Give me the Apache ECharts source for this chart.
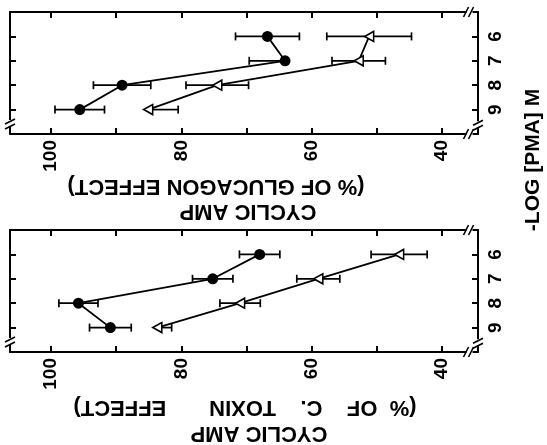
<!DOCTYPE html>
<html><head><meta charset="utf-8">
<script src="https://cdn.jsdelivr.net/npm/echarts@6/dist/echarts.min.js"></script>
<style>html,body{margin:0;padding:0;background:#fff}#c{width:547px;height:445px}</style>
</head><body><div id="c"></div>
<script>
// -log [PMA] M levels (order along each curve)
const pmaLevels = [9, 8, 7, 6];
const pmaTickLabels = [6, 7, 8, 9];
const percentTicks = [40, 50, 60, 70, 80, 90, 100];
const percentTickLabels = [40, 60, 80, 100];

// Top panel: cyclic AMP (% of glucagon effect)
const glucagonCircle = [95.6, 89.1, 64.1, 66.8];
const glucagonCircleErrUp = [3.8, 4.4, 5.5, 4.9];
const glucagonCircleErrDown = [3.8, 4.4, 0, 4.9];
const glucagonTriangle = [85.1, 74.5, 52.8, 51.2];
const glucagonTriangleErrUp = [0, 4.8, 4.1, 6.5];
const glucagonTriangleErrDown = [4.6, 4.8, 4.1, 6.5];

// Bottom panel: cyclic AMP (% of C. toxin effect)
const toxinCircle = [90.9, 95.8, 75.2, 68.0];
const toxinCircleErrUp = [3.2, 3.0, 3.1, 3.1];
const toxinCircleErrDown = [3.2, 3.0, 3.1, 3.1];
const toxinTriangle = [83.7, 71.0, 59.0, 46.6];
const toxinTriangleErrUp = [0, 3.1, 3.3, 4.3];
const toxinTriangleErrDown = [2.2, 3.1, 3.3, 4.3];

const titleTop1 = '(% OF GLUCAGON EFFECT)';
const titleBottom1 = '(%  OF    C.    TOXIN       EFFECT)';
const titleLine2 = 'CYCLIC AMP';
const pmaTitle = '-LOG [PMA] M';

const X_MIN = 34.5, X_MAX = 106.3, Y_MIN = 5, Y_MAX = 10;
const FONT = '"Liberation Sans", Arial, sans-serif';
const BLACK = '#000';

const chart = echarts.init(document.getElementById('c'), null, {renderer: 'canvas'});

const grids = [
  {left: 10, top: 12, width: 468, height: 122},
  {left: 10, top: 230, width: 468, height: 122}
];

function xAxes(gi) {
  const base = {
    type: 'value', gridIndex: gi, min: X_MIN, max: X_MAX, inverse: true,
    axisLine: {show: true, onZero: false, lineStyle: {color: BLACK, width: 2}},
    axisTick: {show: true, inside: true, length: 6, customValues: percentTicks, lineStyle: {color: BLACK, width: 2}},
    splitLine: {show: false}
  };
  return [
    Object.assign({}, base, {position: 'bottom',
      axisLabel: {show: true, customValues: percentTickLabels, rotate: 90, margin: 6, color: BLACK,
        fontSize: 19, fontWeight: 'bold', fontFamily: FONT}}),
    Object.assign({}, base, {position: 'top', axisLabel: {show: false}})
  ];
}
function yAxes(gi) {
  const base = {
    type: 'value', gridIndex: gi, min: Y_MIN, max: Y_MAX, inverse: true,
    axisLine: {show: true, onZero: false, lineStyle: {color: BLACK, width: 2}},
    axisTick: {show: true, inside: true, length: 6, customValues: pmaTickLabels, lineStyle: {color: BLACK, width: 2}},
    splitLine: {show: false}
  };
  return [
    Object.assign({}, base, {position: 'right',
      axisLabel: {show: true, customValues: pmaTickLabels, rotate: 90, margin: 8, color: BLACK,
        fontSize: 19, fontWeight: 'bold', fontFamily: FONT}}),
    Object.assign({}, base, {position: 'left', axisLabel: {show: false}})
  ];
}

function errRender(params, api) {
  const v = api.value(0), p = api.value(1), up = api.value(2), dn = api.value(3);
  const hi = api.coord([v + up, p]);
  const lo = api.coord([v - dn, p]);
  const st = {stroke: BLACK, lineWidth: 1.7};
  const cap = 4;
  const ch = [{type: 'line', shape: {x1: hi[0], y1: hi[1], x2: lo[0], y2: lo[1]}, style: st}];
  if (up > 0) ch.push({type: 'line', shape: {x1: hi[0], y1: hi[1] - cap, x2: hi[0], y2: hi[1] + cap}, style: st});
  if (dn > 0) ch.push({type: 'line', shape: {x1: lo[0], y1: lo[1] - cap, x2: lo[0], y2: lo[1] + cap}, style: st});
  return {type: 'group', children: ch};
}

function panelSeries(gi, circ, circUp, circDn, tri, triUp, triDn) {
  const xi = gi * 2, yi = gi * 2;
  const errData = [];
  pmaLevels.forEach((p, i) => {
    errData.push([circ[i], p, circUp[i], circDn[i]]);
    errData.push([tri[i], p, triUp[i], triDn[i]]);
  });
  return [
    {type: 'custom', xAxisIndex: xi, yAxisIndex: yi, data: errData, encode: {x: 0, y: 1},
      renderItem: errRender, z: 2, silent: true, clip: false},
    {type: 'line', xAxisIndex: xi, yAxisIndex: yi, data: pmaLevels.map((p, i) => [circ[i], p]),
      symbol: 'circle', symbolSize: 11, itemStyle: {color: BLACK},
      lineStyle: {color: BLACK, width: 1.8}, z: 3, silent: true},
    {type: 'line', xAxisIndex: xi, yAxisIndex: yi, data: pmaLevels.map((p, i) => [tri[i], p]),
      symbol: 'triangle', symbolRotate: 90, symbolSize: [10, 9], showAllSymbol: true,
      itemStyle: {color: '#fff', borderColor: BLACK, borderWidth: 1.6},
      lineStyle: {color: BLACK, width: 1.8}, z: 4, silent: true}
  ];
}

chart.setOption({
  animation: false,
  backgroundColor: '#fff',
  grid: grids.map(g => Object.assign({show: false, containLabel: false}, g)),
  xAxis: [].concat(xAxes(0), xAxes(1)),
  yAxis: [].concat(yAxes(0), yAxes(1)),
  series: [].concat(
    panelSeries(0, glucagonCircle, glucagonCircleErrUp, glucagonCircleErrDown,
      glucagonTriangle, glucagonTriangleErrUp, glucagonTriangleErrDown),
    panelSeries(1, toxinCircle, toxinCircleErrUp, toxinCircleErrDown,
      toxinTriangle, toxinTriangleErrUp, toxinTriangleErrDown)
  )
});

// decorations: axis-break marks and rotated titles
function breakMark(pt, orient) {
  const cx = pt[0], cy = pt[1];
  const st = {stroke: BLACK, lineWidth: 1.6};
  const els = [{type: 'rect', shape: {x: cx - 3, y: cy - 3, width: 6, height: 6}, style: {fill: '#fff'}, z: 10}];
  if (orient === 'h') {
    els.push({type: 'line', shape: {x1: cx - 6, y1: cy + 5, x2: cx - 1, y2: cy - 5}, style: st, z: 11});
    els.push({type: 'line', shape: {x1: cx - 1, y1: cy + 5, x2: cx + 4, y2: cy - 5}, style: st, z: 11});
  } else {
    els.push({type: 'line', shape: {x1: cx - 5, y1: cy + 1, x2: cx + 5, y2: cy - 4}, style: st, z: 11});
    els.push({type: 'line', shape: {x1: cx - 5, y1: cy + 6, x2: cx + 5, y2: cy + 1}, style: st, z: 11});
  }
  return els;
}
const gfx = [];
[0, 1].forEach(gi => {
  const f = {xAxisIndex: gi * 2, yAxisIndex: gi * 2};
  gfx.push(...breakMark(chart.convertToPixel(f, [X_MAX, 9.55]), 'v'));
  gfx.push(...breakMark(chart.convertToPixel(f, [X_MIN, 9.6]), 'v'));
  gfx.push(...breakMark(chart.convertToPixel(f, [35.8, Y_MAX]), 'h'));
  gfx.push(...breakMark(chart.convertToPixel(f, [35.8, Y_MIN]), 'h'));
});
function rotText(txt, x, y, size, rot) {
  return {type: 'text', x: x, y: y, rotation: rot, z: 20,
    style: {text: txt, x: 0, y: 0, align: 'center', verticalAlign: 'middle',
      fill: BLACK, font: 'bold ' + size + 'px ' + FONT}};
}
gfx.push(rotText(titleTop1, 216, 186, 22, Math.PI));
gfx.push(rotText(titleLine2, 248, 211, 22, Math.PI));
gfx.push(rotText(titleBottom1, 245, 407, 22, Math.PI));
gfx.push(rotText(titleLine2, 259, 433, 22, Math.PI));
gfx.push(rotText(pmaTitle, 533, 160, 21, Math.PI / 2));
chart.setOption({graphic: gfx});
</script>
</body></html>
